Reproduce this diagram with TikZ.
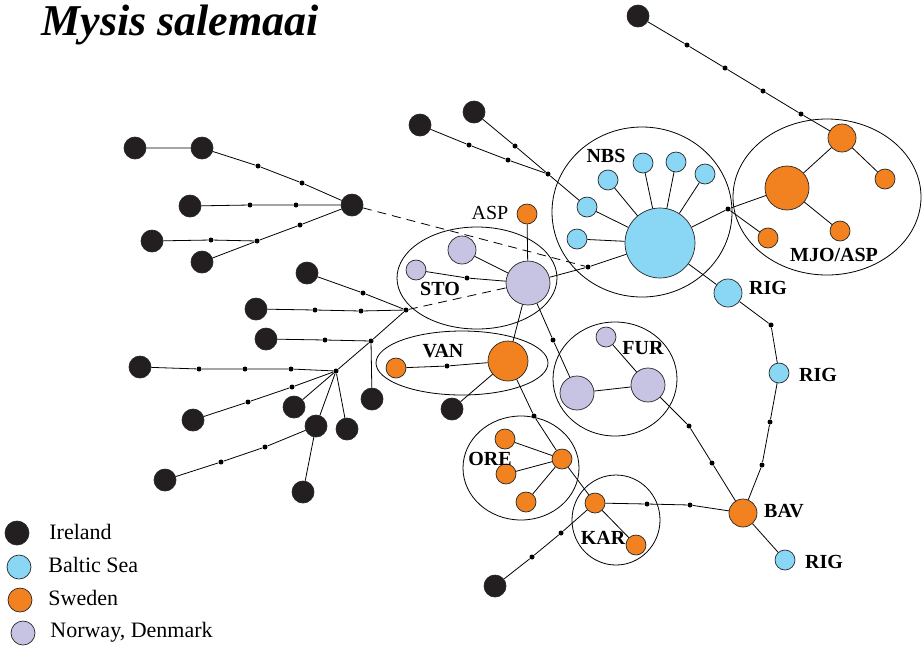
\documentclass[tikz,border=0pt]{standalone}
\usepackage{fontspec}
\setmainfont{Liberation Serif}
\usepackage{xcolor}
\definecolor{irlc}{RGB}{35,31,32}
\definecolor{bltc}{RGB}{137,215,245}
\definecolor{swec}{RGB}{242,130,32}
\definecolor{norc}{RGB}{198,196,226}
\tikzset{
  hap/.style={circle, draw=black!85, line width=0.7pt, inner sep=0pt, minimum size=#1},
  irl/.style={hap=#1, fill=irlc},
  blt/.style={hap=#1, fill=bltc},
  swe/.style={hap=#1, fill=swec},
  nor/.style={hap=#1, fill=norc},
  irl/.default=22pt, blt/.default=20pt, swe/.default=20pt, nor/.default=20pt,
  mv/.style={circle, fill=black, inner sep=0pt, minimum size=5pt},
  lbl/.style={font=\fontsize{20}{23}\selectfont\bfseries, inner sep=0pt},
  leg/.style={font=\fontsize{22}{25}\selectfont, anchor=west, inner sep=0pt},
  longdash/.style={dash pattern=on 9pt off 6pt},
}
\begin{document}
\begin{tikzpicture}[x=1pt, y=-1pt, line width=0.8pt]
    \useasboundingbox (0,0) rectangle (923,649);
    \node[anchor=base west, inner sep=0pt, font=\fontsize{44}{48}\selectfont\bfseries\itshape] (title) at (41,35) {Mysis salemaai};

    \draw (642,212) ellipse [x radius=90pt, y radius=85pt];
    \draw (827,197) ellipse [x radius=94pt, y radius=78pt];
    \draw (477,278) ellipse [x radius=80pt, y radius=51pt];
    \draw (462,363) ellipse [x radius=86pt, y radius=32pt];
    \draw (615,379) ellipse [x radius=62pt, y radius=57pt];
    \draw (521,468) ellipse [x radius=58pt, y radius=52pt];
    \draw (616,520) ellipse [x radius=44pt, y radius=45pt];

    % Ireland
    \node[irl] (i1) at (135,148) {};
    \node[irl] (i2) at (202,148) {};
    \node[irl] (i3) at (190,206) {};
    \node[irl] (i4) at (152,241) {};
    \node[irl] (i5) at (202,262) {};
    \node[irl] (h1) at (352,205) {};
    \node[irl] (i6) at (307,273) {};
    \node[irl] (i7) at (256,309) {};
    \node[irl] (i8) at (266,339) {};
    \node[irl] (i9) at (372,399) {};
    \node[irl] (i10) at (140,367) {};
    \node[irl] (i11) at (193,420) {};
    \node[irl] (i12) at (294,407) {};
    \node[irl] (i13) at (316,426) {};
    \node[irl] (i14) at (347,429) {};
    \node[irl] (i15) at (165,480) {};
    \node[irl] (i16) at (303,492) {};
    \node[irl] (i17) at (474,112) {};
    \node[irl] (i18) at (420,125) {};
    \node[irl] (i19) at (638,16) {};
    \node[irl] (i20) at (452,409) {};
    \node[irl] (i21) at (495,586) {};

    % Baltic Sea
    \node[blt=70pt] (nbs) at (660,243) {};
    \node[blt] (b1) at (587,207) {};
    \node[blt] (b2) at (577,239) {};
    \node[blt] (b3) at (608,180) {};
    \node[blt] (b4) at (643,163) {};
    \node[blt] (b5) at (676,162) {};
    \node[blt] (b6) at (705,174) {};
    \node[blt=28pt] (rig1) at (728,293) {};
    \node[blt] (rig2) at (779,373) {};
    \node[blt] (rig3) at (785,560) {};

    % Sweden
    \node[swe=28pt] (m1) at (842,138) {};
    \node[swe=44pt] (m2) at (787,188) {};
    \node[swe] (m3) at (885,179) {};
    \node[swe] (m4) at (840,231) {};
    \node[swe] (m5) at (768,238) {};
    \node[swe] (asp) at (527,214) {};
    \node[swe=40pt] (van) at (508,361) {};
    \node[swe] (v1) at (396,368) {};
    \node[swe] (o1) at (562,459) {};
    \node[swe] (o2) at (505,439) {};
    \node[swe] (o3) at (506,474) {};
    \node[swe] (o4) at (526,502) {};
    \node[swe] (k1) at (595,503) {};
    \node[swe] (k2) at (636,545) {};
    \node[swe=28pt] (bav) at (743,513) {};

    % Norway, Denmark
    \node[nor=44pt] (sto) at (528,283) {};
    \node[nor=28pt] (s1) at (462,250) {};
    \node[nor] (s2) at (416,270) {};
    \node[nor] (f1) at (606,337) {};
    \node[nor=34pt] (f2) at (648,385) {};
    \node[nor=34pt] (f3) at (577,393) {};

    % missing haplotypes
    \node[mv] (d1) at (258,166) {};
    \node[mv] (d2) at (302,183) {};
    \node[mv] (d3) at (250,205) {};
    \node[mv] (d4) at (296,205) {};
    \node[mv] (d5) at (211,240) {};
    \node[mv] (d6) at (257,241) {};
    \node[mv] (d7) at (300,225) {};
    \node[mv] (d8) at (363,293) {};
    \node[mv] (h2) at (406,310) {};
    \node[mv] (d9) at (315,310) {};
    \node[mv] (d10) at (361,311) {};
    \node[mv] (d11) at (325,340) {};
    \node[mv] (h3) at (371,341) {};
    \node[mv] (h4) at (336,371) {};
    \node[mv] (d12) at (199,369) {};
    \node[mv] (d13) at (245,369) {};
    \node[mv] (d14) at (291,369) {};
    \node[mv] (d15) at (248,402) {};
    \node[mv] (d16) at (292,387) {};
    \node[mv] (d17) at (221,462) {};
    \node[mv] (d18) at (265,447) {};
    \node[mv] (d19) at (469,145) {};
    \node[mv] (d20) at (508,160) {};
    \node[mv] (d21) at (515,146) {};
    \node[mv] (j1) at (548,174) {};
    \node[mv] (d22) at (588,267) {};
    \node[mv] (d23) at (728,209) {};
    \node[mv] (d24) at (687,45) {};
    \node[mv] (d25) at (725,68) {};
    \node[mv] (d26) at (763,91) {};
    \node[mv] (d27) at (801,114) {};
    \node[mv] (d28) at (771,325) {};
    \node[mv] (d29) at (770,422) {};
    \node[mv] (d30) at (762,465) {};
    \node[mv] (d31) at (689,426) {};
    \node[mv] (d32) at (712,463) {};
    \node[mv] (d33) at (647,504) {};
    \node[mv] (d34) at (690,505) {};
    \node[mv] (d35) at (561,533) {};
    \node[mv] (d36) at (532,557) {};
    \node[mv] (d37) at (447,366) {};
    \node[mv] (d38) at (553,340) {};
    \node[mv] (d39) at (467,278) {};
    \node[mv] (d40) at (534,416) {};

    \draw (i1) -- (i2) -- (d1) -- (d2) -- (h1);
    \draw (i3) -- (d3) -- (d4) -- (h1);
    \draw (i4) -- (d5) -- (d6);
    \draw (i5) -- (d6) -- (d7) -- (h1);
    \draw[longdash] (h1) -- (d22);
    \draw (i6) -- (d8) -- (h2);
    \draw (i7) -- (d9) -- (d10) -- (h2);
    \draw (h2) -- (h3) -- (h4);
    \draw (i8) -- (d11) -- (h3) -- (i9);
    \draw (i10) -- (d12) -- (d13) -- (d14) -- (h4);
    \draw (i11) -- (d15) -- (d16) -- (h4);
    \draw (i12) -- (h4) (i13) -- (h4) (i14) -- (h4);
    \draw (i15) -- (d17) -- (d18) -- (i13) -- (i16);
    \draw[longdash] (h2) -- (sto);
    \draw (i18) -- (d19) -- (d20) -- (j1) -- (b1) -- (nbs);
    \draw (i17) -- (d21) -- (j1);
    \draw (b2) -- (nbs) (b3) -- (nbs) (b4) -- (nbs) (b5) -- (nbs) (b6) -- (nbs);
    \draw (sto) -- (d22) -- (nbs) -- (d23) -- (m2) -- (m1) -- (m3);
    \draw (d23) -- (m5) (m2) -- (m4);
    \draw (i19) -- (d24) -- (d25) -- (d26) -- (d27) -- (m1);
    \draw (nbs) -- (rig1) -- (d28) -- (rig2) -- (d29) -- (d30) -- (bav) -- (rig3);
    \draw (asp) -- (sto) (s1) -- (sto);
    \draw (s2) -- (d39) -- (sto) -- (van);
    \draw (sto) -- (d38) -- (f3) -- (f2) -- (f1);
    \draw (f2) -- (d31) -- (d32) -- (bav);
    \draw (v1) -- (d37) -- (van) -- (i20);
    \draw (van) -- (d40) -- (o1) -- (o2) (o1) -- (o3) (o1) -- (o4) (o1) -- (k1) -- (k2);
    \draw (k1) -- (d33) -- (d34) -- (bav);
    \draw (k1) -- (d35) -- (d36) -- (i21);

    \node[lbl] (nbsl) at (606,156) {NBS};
    \node[lbl] (mjol) at (834,255) {MJO/ASP};
    \node[lbl] (rig1l) at (768,288) {RIG};
    \node[lbl] (rig2l) at (818,375) {RIG};
    \node[lbl] (rig3l) at (824,562) {RIG};
    \node[lbl] (bavl) at (784,511) {BAV};
    \node[inner sep=0pt, font=\fontsize{20}{23}\selectfont] (aspl) at (490,213) {ASP};
    \node[lbl] (stol) at (440,289) {STO};
    \node[lbl] (vanl) at (443,351) {VAN};
    \node[lbl] (furl) at (643,348) {FUR};
    \node[lbl] (orel) at (490,459) {ORE};
    \node[lbl] (karl) at (603,538) {KAR};

    % legend
    \node[irl=24pt] (lg1) at (17,533) {};
    \node[blt=24pt] (lg2) at (19,567) {};
    \node[swe=24pt] (lg3) at (20,600) {};
    \node[nor=24pt] (lg4) at (23,633) {};
    \node[leg] (lt1) at (49,532) {Ireland};
    \node[leg] (lt2) at (48,565) {Baltic Sea};
    \node[leg] (lt3) at (48,598) {Sweden};
    \node[leg] (lt4) at (50,632) {Norway, Denmark};
\end{tikzpicture}
\end{document}
